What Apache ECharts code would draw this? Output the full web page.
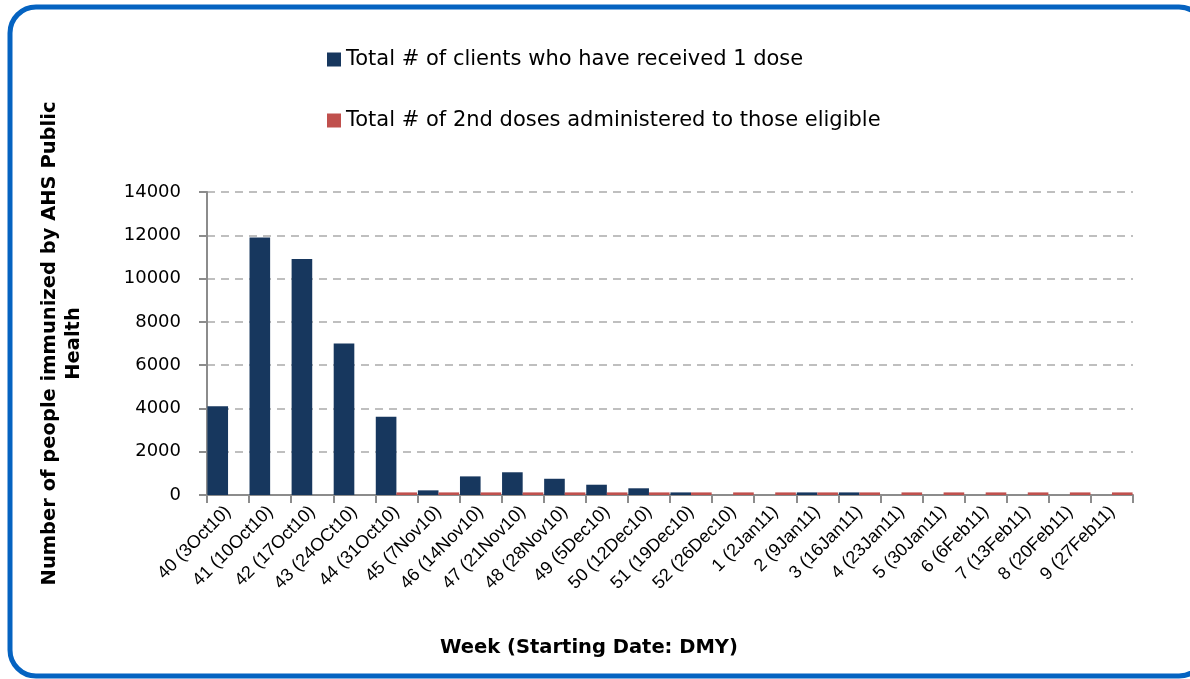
<!DOCTYPE html>
<html>
<head>
<meta charset="utf-8">
<script src="https://cdn.jsdelivr.net/npm/echarts@6/dist/echarts.min.js"></script>
<style>
  html, body { margin: 0; padding: 0; background: #fff; }
  #chart { width: 1190px; height: 679px; }
</style>
</head>
<body>
<div id="chart"></div>
<script>
// week labels (week number + starting date)
var weeks = ['40 (3Oct10)', '41 (10Oct10)', '42 (17Oct10)', '43 (24OCt10)', '44 (31Oct10)',
  '45 (7Nov10)', '46 (14Nov10)', '47 (21Nov10)', '48 (28Nov10)', '49 (5Dec10)',
  '50 (12Dec10)', '51 (19Dec10)', '52 (26Dec10)', '1 (2Jan11)', '2 (9Jan11)',
  '3 (16Jan11)', '4 (23Jan11)', '5 (30Jan11)', '6 (6Feb11)', '7 (13Feb11)',
  '8 (20Feb11)', '9 (27Feb11)']
// Total # of clients who have received 1 dose
var firstDose = [4100, 11900, 10900, 7000, 3620, 215, 860, 1050, 750, 475,
  310, 120, 0, 0, 120, 120, 0, 0, 0, 0, 0, 0]
// Total # of 2nd doses administered to those eligible
var secondDose = [0, 0, 0, 0, 120, 120, 120, 120, 120, 120,
  120, 120, 120, 120, 120, 120, 120, 120, 120, 120, 120, 120]

var font = 'Liberation Sans'
var wide = 'DejaVu Sans'
var mycharts = echarts.init(document.getElementById('chart'))
var option = {
  animation: false,
  textStyle: { fontFamily: font },
  graphic: [
    {
      type: 'rect',
      shape: { x: 10, y: 7, width: 1195, height: 669, r: 26 },
      style: { fill: 'none', stroke: '#0563C1', lineWidth: 5 },
      silent: true
    }
  ],
  title: {
    text: 'Week (Starting Date: DMY)',
    left: 440,
    top: 638,
    padding: 0,
    textStyle: { fontFamily: wide, fontSize: 19.5, fontWeight: 'bold', color: '#000' }
  },
  legend: {
    orient: 'vertical',
    left: 322,
    top: 44,
    itemWidth: 14,
    itemHeight: 14,
    itemGap: 40,
    icon: 'rect',
    textStyle: { fontFamily: wide, fontSize: 21, color: '#000' },
    data: ['Total # of clients who have received 1 dose', 'Total # of 2nd doses administered to those eligible']
  },
  grid: { left: 207, right: 57, top: 192, bottom: 184 },
  xAxis: {
    type: 'category',
    data: weeks,
    axisLine: { lineStyle: { color: '#8c8c8c', width: 2 } },
    axisTick: { show: true, length: 8, lineStyle: { color: '#8c8c8c', width: 2 } },
    axisLabel: { rotate: 45, fontSize: 18, color: '#000', margin: 14, interval: 0 }
  },
  yAxis: {
    type: 'value',
    min: 0,
    max: 14000,
    interval: 2000,
    name: 'Number of people immunized by AHS Public\nHealth',
    nameLocation: 'middle',
    nameGap: 121,
    nameTextStyle: { fontFamily: wide, fontSize: 19.5, fontWeight: 'bold', color: '#000', lineHeight: 24 },
    axisLine: { show: true, lineStyle: { color: '#8c8c8c', width: 2 } },
    axisTick: { show: true, length: 8, lineStyle: { color: '#8c8c8c', width: 2 } },
    axisLabel: { fontFamily: wide, fontSize: 18, color: '#000', margin: 26, formatter: function (v) { return String(v) } },
    splitLine: { lineStyle: { color: '#bfbfbf', width: 2, type: [8, 6] } }
  },
  series: [
    {
      name: 'Total # of clients who have received 1 dose',
      type: 'bar',
      data: firstDose,
      barGap: '0%',
      barCategoryGap: '2%',
      itemStyle: { color: '#17375E' }
    },
    {
      name: 'Total # of 2nd doses administered to those eligible',
      type: 'bar',
      data: secondDose,
      itemStyle: { color: '#C0504D' }
    }
  ]
}
mycharts.setOption(option)
</script>
</body>
</html>
